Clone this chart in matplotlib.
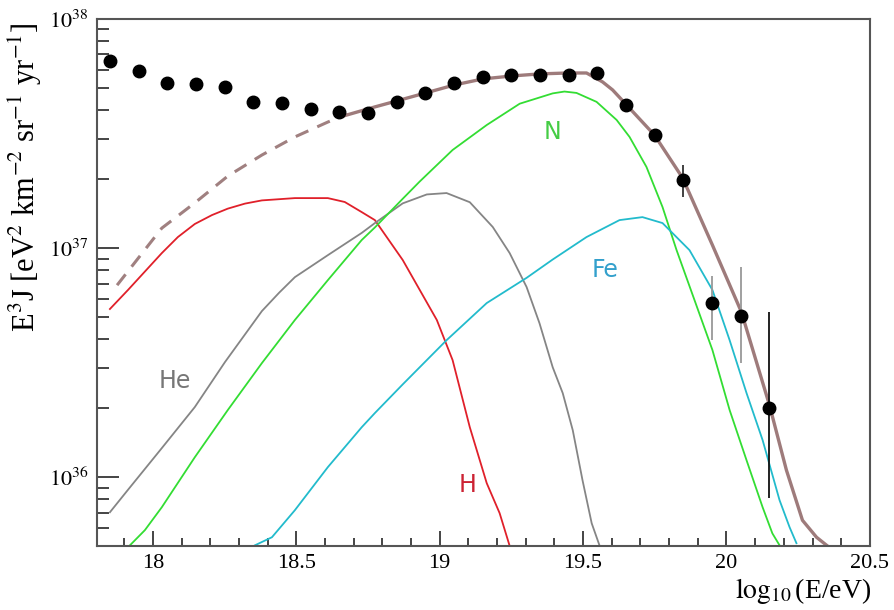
import numpy as np
import matplotlib
matplotlib.use("Agg")
import matplotlib.pyplot as plt
from matplotlib.ticker import MultipleLocator, LogLocator, NullFormatter

plt.rcParams['font.family'] = ['Liberation Serif', 'DejaVu Serif']
plt.rcParams['mathtext.fontset'] = 'stix'

# measured flux points (log10 E, E^3 J)
data_x = [17.85, 17.95, 18.05, 18.15, 18.25, 18.35, 18.45, 18.55, 18.65, 18.75,
          18.85, 18.95, 19.05, 19.15, 19.25, 19.35, 19.45, 19.55, 19.65, 19.75,
          19.85, 19.95, 20.05, 20.15]
data_y = [6.56e37, 5.93e37, 5.26e37, 5.20e37, 5.05e37, 4.35e37, 4.30e37, 4.05e37,
          3.93e37, 3.89e37, 4.35e37, 4.75e37, 5.26e37, 5.58e37, 5.69e37, 5.69e37,
          5.69e37, 5.81e37, 4.21e37, 3.11e37, 1.98e37, 5.75e36, 5.05e36, 2.0e36]

# error bars on the highest-energy points
err_x = [19.85, 19.95, 20.05, 20.15]
err_lo = [1.67e37, 3.96e36, 3.15e36, 8.1e35]
err_hi = [2.30e37, 7.55e36, 8.3e36, 5.25e36]
err_col = ['#333333', '#999999', '#999999', '#111111']

# model components, (log10 E, log10 E^3 J)
h_x = [17.850, 17.913, 18.031, 18.087, 18.146, 18.206, 18.261, 18.321, 18.380,
       18.495, 18.610, 18.669, 18.728, 18.774, 18.871, 18.990, 19.045, 19.105,
       19.164, 19.209, 19.244]
h_y = [36.734, 36.817, 36.978, 37.048, 37.105, 37.144, 37.172, 37.194, 37.208,
       37.218, 37.218, 37.201, 37.157, 37.122, 36.948, 36.686, 36.511, 36.218,
       35.974, 35.843, 35.700]

he_x = [17.850, 17.913, 18.031, 18.146, 18.251, 18.380, 18.440, 18.495, 18.610,
        18.728, 18.774, 18.871, 18.955, 19.024, 19.105, 19.185, 19.244, 19.303,
        19.348, 19.394, 19.429, 19.464, 19.498, 19.530, 19.557]
he_y = [35.847, 35.945, 36.127, 36.306, 36.502, 36.725, 36.805, 36.873, 36.969,
        37.066, 37.109, 37.195, 37.234, 37.240, 37.200, 37.092, 36.978, 36.830,
        36.672, 36.480, 36.367, 36.205, 35.987, 35.799, 35.703]

n_x = [17.920, 17.972, 18.031, 18.146, 18.261, 18.380, 18.495, 18.610, 18.728,
       18.774, 18.871, 18.930, 19.045, 19.164, 19.279, 19.394, 19.435, 19.477,
       19.547, 19.617, 19.662, 19.721, 19.777, 19.826, 19.951, 20.011, 20.070,
       20.126, 20.160, 20.185]
n_y = [35.703, 35.769, 35.869, 36.087, 36.293, 36.498, 36.686, 36.860, 37.035,
       37.090, 37.215, 37.290, 37.428, 37.537, 37.630, 37.675, 37.683, 37.677,
       37.638, 37.559, 37.485, 37.354, 37.179, 36.991, 36.555, 36.293, 36.074,
       35.869, 35.755, 35.703]

fe_x = [18.356, 18.415, 18.495, 18.610, 18.728, 18.774, 18.871, 18.955, 19.024,
        19.164, 19.303, 19.394, 19.512, 19.627, 19.707, 19.777, 19.871, 19.951,
        20.011, 20.070, 20.126, 20.185, 20.220, 20.244]
fe_y = [35.703, 35.738, 35.856, 36.044, 36.218, 36.280, 36.405, 36.511, 36.598,
        36.760, 36.870, 36.950, 37.048, 37.122, 37.135, 37.109, 36.991, 36.817,
        36.598, 36.367, 36.162, 35.900, 35.782, 35.712]

# total, dashed below the fit range then solid
tot_dash_x = [17.875, 18.031, 18.146, 18.261, 18.380, 18.495, 18.610, 18.652]
tot_dash_y = [36.838, 37.087, 37.197, 37.314, 37.406, 37.485, 37.550, 37.572]
tot_x = [18.652, 18.774, 18.850, 18.951, 19.052, 19.150, 19.251, 19.349, 19.446,
         19.512, 19.568, 19.603, 19.652, 19.749, 19.847, 19.951, 20.052, 20.150,
         20.209, 20.265, 20.314, 20.349]
tot_y = [37.572, 37.616, 37.642, 37.677, 37.712, 37.738, 37.751, 37.760, 37.764,
         37.764, 37.725, 37.690, 37.624, 37.493, 37.306, 37.013, 36.721, 36.314,
         36.031, 35.812, 35.738, 35.703]

fig = plt.figure(figsize=(8.94, 6.10), dpi=100)
ax = fig.add_axes([0.1085, 0.105, 0.8645, 0.864])

ax.plot(h_x, 10 ** np.array(h_y), color='#e0202a', lw=1.3)
ax.plot(he_x, 10 ** np.array(he_y), color='#858585', lw=1.3)
ax.plot(n_x, 10 ** np.array(n_y), color='#33dd33', lw=1.3)
ax.plot(fe_x, 10 ** np.array(fe_y), color='#22bbcc', lw=1.3)
ax.plot(tot_dash_x, 10 ** np.array(tot_dash_y), color='#a08080', lw=2.2,
        dashes=(4.5, 3.2))
ax.plot(tot_x, 10 ** np.array(tot_y), color='#9e7b7b', lw=2.4)

ax.vlines(err_x, err_lo, err_hi, colors=err_col, lw=1.3, zorder=4)
ax.plot(data_x, data_y, 'o', color='black', ms=9, zorder=5)

ax.text(19.394, 10 ** 37.507, 'N', color='#44cc44', fontsize=17,
        family='DejaVu Sans', ha='center', va='center')
ax.text(19.578, 10 ** 36.904, 'Fe', color='#33a0cc', fontsize=17,
        family='DejaVu Sans', ha='center', va='center')
ax.text(18.075, 10 ** 36.42, 'He', color='#777777', fontsize=17,
        family='DejaVu Sans', ha='center', va='center')
ax.text(19.098, 10 ** 35.965, 'H', color='#cc2233', fontsize=17,
        family='DejaVu Sans', ha='center', va='center')

ax.set_yscale('log')
ax.set_xlim(17.805, 20.5)
ax.set_ylim(10 ** 35.70, 1e38)

ax.xaxis.set_minor_locator(MultipleLocator(0.1))
ax.set_xticks([18, 18.5, 19, 19.5, 20, 20.5])
ax.set_xticklabels(['18', '18.5', '19', '19.5', '20', '20.5'])
ax.set_yticks([1e36, 1e37, 1e38])
ax.set_yticklabels([r'$10^{36}$', r'$10^{37}$', r'$10^{38}$'])
ax.yaxis.set_minor_locator(LogLocator(base=10, subs=np.arange(2, 10)))
ax.yaxis.set_minor_formatter(NullFormatter())

ax.tick_params(axis='both', which='both', direction='in', colors='#444444',
               labelcolor='black', labelsize=16, width=1.4)
ax.tick_params(axis='x', which='major', length=11, pad=6)
ax.tick_params(axis='x', which='minor', length=6)
ax.tick_params(axis='y', which='major', length=16, pad=6)
ax.tick_params(axis='y', which='minor', length=8.5)
for s in ax.spines.values():
    s.set_color('#555555')
    s.set_linewidth(1.5)

fig.text(25 / 894, 1 - 22 / 610,
         r'E$^{3}$J [eV$^{2}$ km$^{-2}$ sr$^{-1}$ yr$^{-1}$]',
         rotation=90, ha='center', va='top', fontsize=22)
fig.text(871 / 894, 1 - 591 / 610, r'$\log_{10}$(E/eV)', ha='right',
         va='center', fontsize=20)

fig.savefig('out.png', dpi=100)
